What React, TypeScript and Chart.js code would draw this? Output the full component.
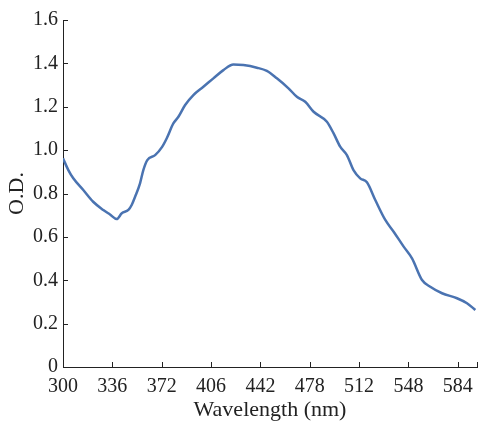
import React, { useEffect, useRef } from "react";
import { Chart, registerables } from "chart.js";

Chart.register(...registerables);

const wavelengths = [
  300, 303.9, 307.5, 314.8, 322.0, 329.4, 334.3, 339.2, 342.9, 347.7, 350.1, 352.6,
  356.2, 358.6, 361.5, 367.2, 372.3, 375.7, 380.5, 384.2, 389.1, 395.1, 402.4, 409.7,
  417.0, 424.3, 431.6, 441.4, 448.7, 456.0, 464.5, 470.6, 476.7, 482.8, 492.5, 497.4,
  502.2, 507.1, 511.9, 516.8, 521.7, 527.8, 535.1, 541.2, 548.5, 554.6, 561.9, 567.9,
  576.5, 587.4, 594.7, 600.8,
];
const odValues = [
  0.962, 0.908, 0.870, 0.816, 0.762, 0.724, 0.703, 0.682, 0.709, 0.724, 0.747, 0.785,
  0.847, 0.908, 0.954, 0.977, 1.015, 1.055, 1.123, 1.154, 1.208, 1.254, 1.292, 1.331,
  1.369, 1.395, 1.392, 1.380, 1.365, 1.331, 1.285, 1.246, 1.223, 1.177, 1.131, 1.077,
  1.016, 0.977, 0.908, 0.870, 0.852, 0.770, 0.678, 0.624, 0.555, 0.501, 0.401, 0.370,
  0.340, 0.317, 0.294, 0.263,
];
const xTickValues = [300, 336, 372, 408, 444, 480, 516, 552, 588];
const xTickLabels = ["300", "336", "372", "406", "442", "478", "512", "548", "584"];
const yTickLabels = ["0", "0.2", "0.4", "0.6", "0.8", "1.0", "1.2", "1.4", "1.6"];
const X_MIN = 300;
const X_MAX = 602;

const FONT = "'Liberation Serif', 'DejaVu Serif', serif";
const INK = "#222222";

const innerTicks = {
  id: "innerTicks",
  afterDraw(chart: any) {
    const { ctx, scales } = chart;
    const xs = scales.x;
    const ys = scales.y;
    const len = 5;
    ctx.save();
    ctx.strokeStyle = INK;
    ctx.lineWidth = 1;
    ctx.beginPath();
    xs.ticks.forEach((t: any) => {
      const px = Math.round(xs.getPixelForValue(t.value)) + 0.5;
      ctx.moveTo(px, xs.top);
      ctx.lineTo(px, xs.top - len);
    });
    ys.ticks.forEach((t: any) => {
      const py = Math.round(ys.getPixelForValue(t.value)) + 0.5;
      ctx.moveTo(ys.right, py);
      ctx.lineTo(ys.right + len, py);
    });
    ctx.stroke();
    ctx.restore();
  },
};

export default function App() {
  const ref = useRef<HTMLCanvasElement | null>(null);
  useEffect(() => {
    if (!ref.current) return;
    const chart = new Chart(ref.current, {
      type: "line",
      data: {
        datasets: [
          {
            data: wavelengths.map((w, i) => ({ x: w, y: odValues[i] })),
            borderColor: "#4a73b1",
            borderWidth: 2.5,
            pointRadius: 0,
            tension: 0.4,
            cubicInterpolationMode: "monotone",
            fill: false,
          },
        ],
      },
      options: {
        animation: false,
        responsive: false,
        devicePixelRatio: 1,
        layout: { padding: { top: 20, right: 1, left: 0, bottom: 0 } },
        plugins: { legend: { display: false }, tooltip: { enabled: false } },
        scales: {
          x: {
            type: "linear",
            min: X_MIN,
            max: X_MAX,
            afterBuildTicks: (scale: any) => {
              scale.ticks = [...xTickValues, X_MAX].map((v) => ({ value: v }));
            },
            afterFit: (scale: any) => {
              scale.height = 54;
              scale.paddingLeft = 0;
              scale.paddingRight = 0;
            },
            ticks: {
              autoSkip: false,
              maxRotation: 0,
              padding: 8,
              color: INK,
              font: { family: FONT, size: 20, lineHeight: 1.2 },
              callback: (_v: any, i: number) => xTickLabels[i] ?? "",
            },
            grid: { display: true, drawOnChartArea: false, drawTicks: false },
            border: { display: true, color: INK, width: 1 },
            title: {
              display: true,
              text: "Wavelength (nm)",
              color: INK,
              font: { family: FONT, size: 22, lineHeight: 1 },
              padding: { top: 0, bottom: 0 },
            },
          },
          y: {
            min: 0,
            max: 1.6,
            afterBuildTicks: (scale: any) => {
              scale.ticks = yTickLabels.map((l) => ({ value: parseFloat(l) }));
            },
            afterFit: (scale: any) => {
              scale.width = 63;
              scale.paddingTop = 0;
              scale.paddingBottom = 0;
            },
            ticks: {
              padding: 5,
              color: INK,
              font: { family: FONT, size: 20 },
              callback: (_v: any, i: number) => yTickLabels[i] ?? "",
            },
            grid: { display: true, drawOnChartArea: false, drawTicks: false },
            border: { display: true, color: INK, width: 1 },
            title: {
              display: true,
              text: "O.D.",
              color: INK,
              font: { family: FONT, size: 22, lineHeight: 1 },
              padding: { top: 6, bottom: 0 },
            },
          },
        },
      } as any,
      plugins: [innerTicks],
    });
    return () => chart.destroy();
  }, []);
  return (
    <div style={{ position: "absolute", left: 0, top: 0, width: 478, height: 421, background: "#fff" }}>
      <canvas ref={ref} width={478} height={421} style={{ display: "block", width: 478, height: 421 }} />
    </div>
  );
}
